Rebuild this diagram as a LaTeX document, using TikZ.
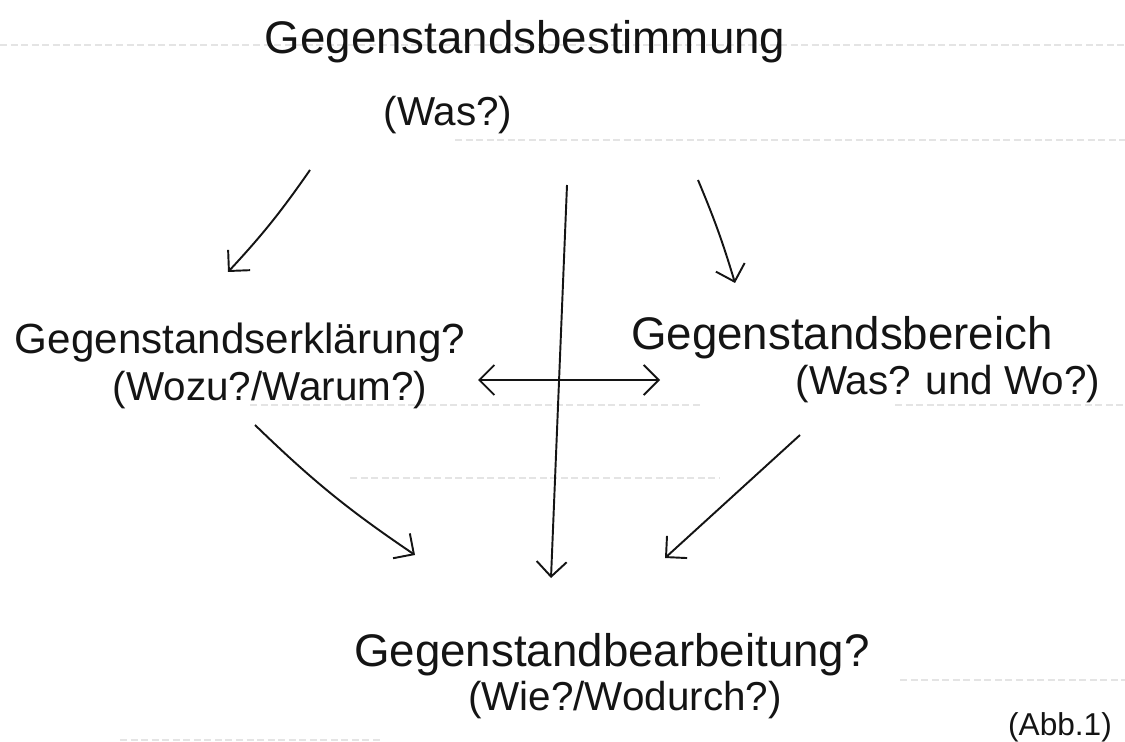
\documentclass[tikz,border=0pt]{standalone}
\usepackage{fontspec}
\setmainfont{Liberation Sans}
\usetikzlibrary{arrows.meta}
\definecolor{inkBlack}{RGB}{20, 20, 20}
\definecolor{paperLine}{RGB}{228, 228, 228}

\tikzset{
  hand/.style={text=inkBlack, inner sep=0pt, font=\fontsize{26}{30}\selectfont},
  handq/.style={hand, font=\fontsize{23}{27}\selectfont},
  pfeil/.style={draw=inkBlack, line width=1.1pt,
    -{Straight Barb[length=3mm, width=6mm, line width=1.1pt]}},
  doppelpfeil/.style={pfeil,
    {Straight Barb[length=3mm, width=6mm, line width=1.1pt]}-{Straight Barb[length=3mm, width=6mm, line width=1.1pt]}},
  linie/.style={draw=paperLine, line width=0.6pt, dash pattern=on 4pt off 2pt}
}

\begin{document}
\begin{tikzpicture}[x=0.02cm, y=-0.02cm]
  \useasboundingbox (0,0) rectangle (1125,742);

  \foreach \yy/\xa/\xb in {45/0/1125, 140/455/1125, 405/250/700, 405/895/1125,
                          478/350/720, 680/900/1125, 740/120/380}{%
    \draw[linie] (\xa,\yy) -- (\xb,\yy);
  }

  \node[hand]  (best)  at (525, 42)  {Gegenstandsbestimmung};
  \node[handq] (bestq) at (448, 115) {(Was?)};
  \node[hand, font=\fontsize{24}{28}\selectfont] (erkl) at (240, 343) {Gegenstandserklärung?};
  \node[handq] (erklq) at (270, 390) {(Wozu?/Warum?)};
  \node[hand]  (bere)  at (842, 338) {Gegenstandsbereich};
  \node[handq] (bereq) at (948, 384) {(Was? und Wo?)};
  \node[hand]  (bear)  at (612, 655) {Gegenstandbearbeitung?};
  \node[handq] (bearq) at (625, 700) {(Wie?/Wodurch?)};
  \node[handq, font=\fontsize{18}{20}\selectfont] (abb) at (1060, 727) {(Abb.1)};

  \draw[pfeil] ([shift={(-138,55)}]bestq.center) to[bend left=4] ([shift={(-12,-71)}]erkl.center);
  \draw[pfeil] ([shift={(42,143)}]best.center) -- ([shift={(-61,-77)}]bear.center);
  \draw[pfeil] ([shift={(173,138)}]best.center) to[bend left=3] ([shift={(-107,-55)}]bere.center);
  \draw[doppelpfeil] ([shift={(208,-10)}]erklq.center) -- ([shift={(-182,42)}]bere.center);
  \draw[pfeil] ([shift={(-15,35)}]erklq.center) to[bend right=5] ([shift={(-197,-100)}]bear.center);
  \draw[pfeil] ([shift={(-148,51)}]bereq.center) -- ([shift={(53,-97)}]bear.center);
\end{tikzpicture}
\end{document}
